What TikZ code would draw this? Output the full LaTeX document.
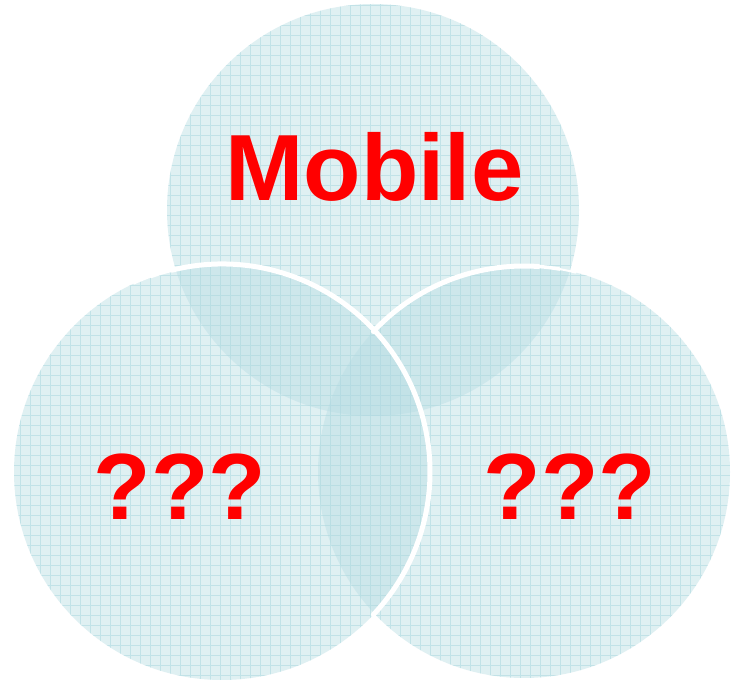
\documentclass[tikz,border=0pt]{standalone}
\usepackage{fontspec}
\setmainfont{Liberation Sans}
\definecolor{venn}{RGB}{185,222,228}
\definecolor{gridc}{RGB}{170,215,222}
\definecolor{txtred}{RGB}{255,0,0}
\tikzset{
  setfill/.style={fill=venn, fill opacity=0.45},
  gridline/.style={draw=gridc, line width=0.7pt, opacity=0.55},
  rim/.style={draw=white, line cap=round},
  bigtext/.style={text=txtred, font=\fontsize{94}{100}\selectfont\bfseries, inner sep=0pt, anchor=base}
}
\begin{document}
\begin{tikzpicture}[x=1pt,y=1pt]
\useasboundingbox (0,0) rectangle (731,685);
\fill[white] (0,0) rectangle (731,685);
% circles
\coordinate (ctop) at (373,475);
\coordinate (cleft) at (222,213);
\coordinate (cright) at (524,213);
\path[setfill] (ctop) circle (206);
\path[setfill] (cleft) circle (208);
\path[setfill] (cright) circle (206);
% grid inside union of the circles
\begin{scope}
\clip (ctop) circle (206) (cleft) circle (208) (cright) circle (206);
\draw[gridline, step=10pt] (0,0) grid (731,685);
\end{scope}
% white rim of right circle
\draw[rim, line width=5pt] (cright) ++(137:206) arc[start angle=137, end angle=86, radius=206];
\draw[rim, line width=3.5pt] (cright) ++(86:206) arc[start angle=86, end angle=80, radius=206];
\draw[rim, line width=2pt] (cright) ++(80:206) arc[start angle=80, end angle=75.5, radius=206];
% white rim of left circle
\draw[rim, line width=2pt] (cleft) ++(115:208) arc[start angle=115, end angle=110, radius=208];
\draw[rim, line width=3.5pt] (cleft) ++(110:208) arc[start angle=110, end angle=104, radius=208];
\draw[rim, line width=5pt] (cleft) ++(104:208) arc[start angle=104, end angle=-43.3, radius=208];
% texts
\node[bigtext] (mobile) at (374.5,484.5) {Mobile};
\node[bigtext] (qleft) at (180,165) {???};
\node[bigtext] (qright) at (570,165) {???};
\end{tikzpicture}
\end{document}
